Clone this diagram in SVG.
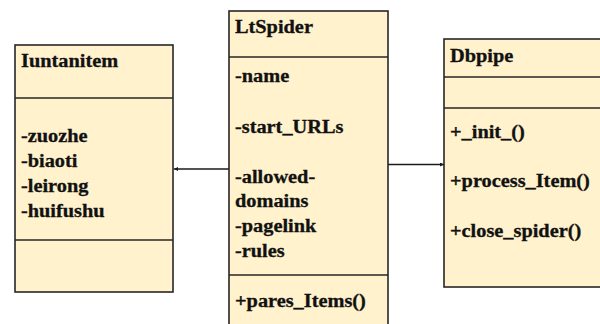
<svg xmlns="http://www.w3.org/2000/svg" width="600" height="324" viewBox="0 0 600 324">
  <defs>
    <style>
      .box { fill: #fff2cc; stroke: #262626; stroke-width: 1.6; }
      .sep { stroke: #262626; stroke-width: 1.6; fill: none; }
      .lbl { font-family: "Liberation Serif", "Times New Roman", serif; font-weight: bold; font-size: 18px; fill: #111; stroke: #111; stroke-width: 0.3; }
      .link { stroke: #1a1a1a; stroke-width: 1.5; fill: none; marker-end: url(#tip); }
    </style>
    <marker id="tip" viewBox="0 0 6 6" refX="6" refY="3" markerWidth="4" markerHeight="4" orient="auto" markerUnits="userSpaceOnUse">
      <path d="M0,0 L6,3 L0,6 z" fill="#1a1a1a"/>
    </marker>
  </defs>

  <rect width="600" height="324" fill="#ffffff"/>

  <!-- connectors -->
  <g id="connectors">
    <line class="link" x1="229" y1="169" x2="174" y2="169"/>
    <line class="link" x1="388" y1="164.5" x2="444" y2="164.5"/>
  </g>

  <!-- Iuntanitem class -->
  <g id="iuntanitem">
    <rect class="box" x="15" y="45" width="158" height="247"/>
    <line class="sep" x1="15" y1="98" x2="173" y2="98"/>
    <line class="sep" x1="15" y1="240" x2="173" y2="240"/>
    <text class="lbl" transform="matrix(1.13 0 0 1 21 67)">Iuntanitem</text>
    <text class="lbl" transform="matrix(1.13 0 0 1 21 142)">-zuozhe</text>
    <text class="lbl" transform="matrix(1.13 0 0 1 21 167)">-biaoti</text>
    <text class="lbl" transform="matrix(1.13 0 0 1 21 192)">-leirong</text>
    <text class="lbl" transform="matrix(1.13 0 0 1 21 217)">-huifushu</text>
  </g>

  <!-- LtSpider class -->
  <g id="ltspider">
    <rect class="box" x="229" y="11" width="159" height="330"/>
    <line class="sep" x1="229" y1="57" x2="388" y2="57"/>
    <line class="sep" x1="229" y1="275" x2="388" y2="275"/>
    <text class="lbl" transform="matrix(1.13 0 0 1 235 33)">LtSpider</text>
    <text class="lbl" transform="matrix(1.13 0 0 1 235 82)">-name</text>
    <text class="lbl" transform="matrix(1.13 0 0 1 235 133)">-start_URLs</text>
    <text class="lbl" transform="matrix(1.13 0 0 1 235 183)">-allowed-</text>
    <text class="lbl" transform="matrix(1.13 0 0 1 235 207)">domains</text>
    <text class="lbl" transform="matrix(1.13 0 0 1 235 232)">-pagelink</text>
    <text class="lbl" transform="matrix(1.13 0 0 1 235 257)">-rules</text>
    <text class="lbl" transform="matrix(1.13 0 0 1 235 307)">+pares_Items()</text>
  </g>

  <!-- Dbpipe class -->
  <g id="dbpipe">
    <rect class="box" x="444" y="39" width="170" height="248"/>
    <line class="sep" x1="444" y1="77" x2="614" y2="77"/>
    <line class="sep" x1="444" y1="108" x2="614" y2="108"/>
    <text class="lbl" transform="matrix(1.13 0 0 1 450 62)">Dbpipe</text>
    <text class="lbl" transform="matrix(1.13 0 0 1 450 138)">+_init_()</text>
    <text class="lbl" transform="matrix(1.13 0 0 1 450 187)">+process_Item()</text>
    <text class="lbl" transform="matrix(1.13 0 0 1 450 237)">+close_spider()</text>
  </g>
</svg>
